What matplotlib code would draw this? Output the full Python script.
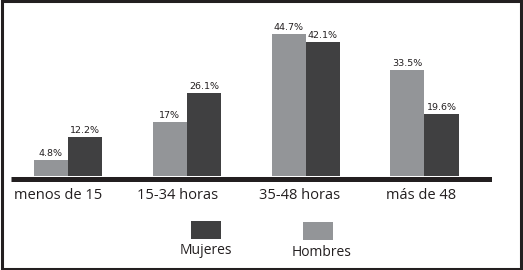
import matplotlib
matplotlib.use("Agg")
import matplotlib.pyplot as plt
from matplotlib.patches import Rectangle
import numpy as np

# Data
categories = ["menos de 15", "15-34 horas", "35-48 horas", "más de 48"]
hombres = [4.8, 17, 44.7, 33.5]
mujeres = [12.2, 26.1, 42.1, 19.6]
hombres_labels = ["4.8%", "17%", "44.7%", "33.5%"]
mujeres_labels = ["12.2%", "26.1%", "42.1%", "19.6%"]

gray = "#939598"
dark = "#404041"
ink = "#231f20"

plt.rcParams['font.family'] = ['Open Sans', 'DejaVu Sans']

fig = plt.figure(figsize=(5.23, 2.70), dpi=100)
ax = fig.add_axes([0.021, 0.3207, 0.92, 0.6237])

x = np.arange(len(categories))
w = 0.287
b1 = ax.bar(x - w / 2, hombres, w, color=gray, linewidth=0)
b2 = ax.bar(x + w / 2, mujeres, w, color=dark, linewidth=0)

for rect, lab in zip(b1, hombres_labels):
    ax.annotate(lab, (rect.get_x() + rect.get_width() / 2, rect.get_height()),
                xytext=(0, 1.5), textcoords="offset points", ha="center", va="bottom",
                fontsize=6.8, color=ink, family="DejaVu Sans")
for rect, lab in zip(b2, mujeres_labels):
    ax.annotate(lab, (rect.get_x() + rect.get_width() / 2, rect.get_height()),
                xytext=(0, 1.5), textcoords="offset points", ha="center", va="bottom",
                fontsize=6.8, color=ink, family="DejaVu Sans")

# thick baseline just under the bars
ax.axhline(-0.95, color=ink, linewidth=3.6, solid_capstyle="butt")

ax.set_xlim(-0.48, 3.57)
ax.set_ylim(-2.5, 50.8)
for s in ax.spines.values():
    s.set_visible(False)
ax.set_yticks([])
ax.set_xticks(x - np.array([0.08, 0.08, 0.05, 0.03]))
ax.set_xticklabels(categories, fontsize=10.5, color=ink)
ax.tick_params(axis="x", length=0, pad=3)

# legend drawn by hand
fig.patches.append(Rectangle((0.365, 0.115), 0.0575, 0.066, transform=fig.transFigure,
                             color=dark, linewidth=0))
fig.patches.append(Rectangle((0.579, 0.111), 0.0575, 0.066, transform=fig.transFigure,
                             color=gray, linewidth=0))
fig.text(0.394, 0.072, "Mujeres", ha="center", va="center", fontsize=10, color=ink)
fig.text(0.614, 0.066, "Hombres", ha="center", va="center", fontsize=10, color=ink)

# frame
fig.patches.append(Rectangle((0.003, 0.005), 0.994, 0.99, transform=fig.transFigure,
                             fill=False, edgecolor=ink, linewidth=2.2))

fig.savefig("out.png", dpi=100)
